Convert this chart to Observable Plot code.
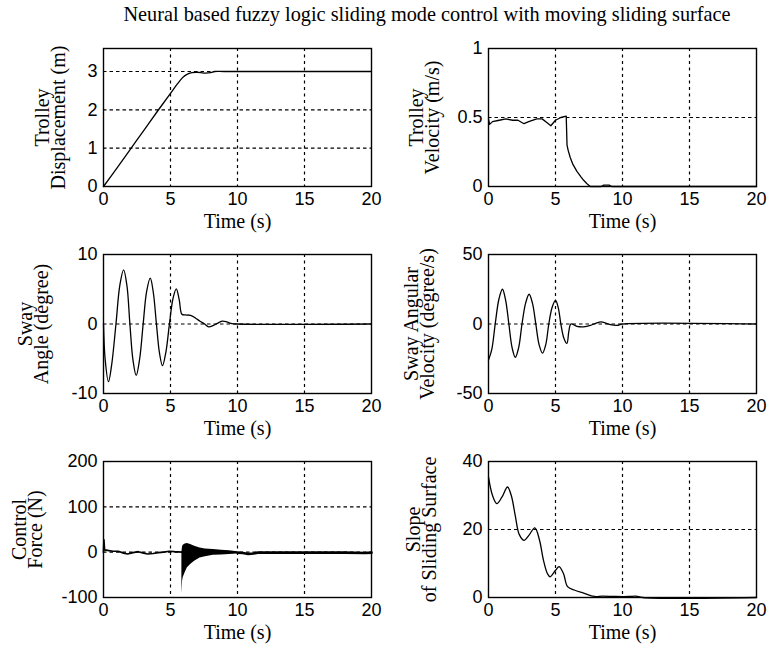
<!DOCTYPE html>
<html><head><meta charset="utf-8">
<script src="https://cdn.jsdelivr.net/npm/d3@7"></script>
<script src="https://cdn.jsdelivr.net/npm/@observablehq/plot@0.6"></script>
<style>
body{margin:0;background:#fff;}
#fig{position:relative;width:781px;height:648px;background:#fff;overflow:hidden;}
#fig svg{position:absolute;}
#title{position:absolute;top:4px;left:427px;transform:translateX(-50%);white-space:nowrap;font-family:"Liberation Serif",serif;font-size:20.3px;line-height:1;color:#000;}
</style></head><body>
<div id="fig"><div id="title">Neural based fuzzy logic sliding mode control with moving sliding surface</div></div>
<script>
// ---- data ----
const xTicks = [0, 5, 10, 15, 20];
const xGrid = [5, 10, 15];

const dispT = [0, 1, 2, 3, 4, 5, 5.5, 5.9, 6.2, 6.6, 7.0, 7.5, 8.0, 8.3, 9, 20];
const dispV = [0, 0.48, 0.97, 1.46, 1.95, 2.43, 2.67, 2.84, 2.92, 2.97, 2.98, 2.96, 2.97, 3.0, 3.0, 3.0];

const velT = [0, 0.08, 0.3, 0.8, 1.3, 1.8, 2.2, 2.65, 3.0, 3.6, 4.0, 4.4, 4.65, 5.0, 5.4, 5.8, 5.86, 5.95, 6.1, 6.3, 6.6, 6.9, 7.1, 7.35, 7.6, 8.4, 8.6, 9.0, 9.2, 20];
const velV = [0.49, 0.45, 0.47, 0.48, 0.49, 0.48, 0.48, 0.455, 0.47, 0.49, 0.49, 0.46, 0.44, 0.48, 0.5, 0.51, 0.3, 0.26, 0.21, 0.16, 0.11, 0.07, 0.045, 0.02, 0, 0, 0.01, 0.01, 0, 0];

const angT = [0, 0.12, 0.37, 0.6, 0.93, 1.22, 1.5, 1.75, 1.97, 2.2, 2.44, 2.7, 2.96, 3.22, 3.49, 3.72, 3.95, 4.18, 4.4, 4.66, 4.92, 5.18, 5.43, 5.65, 5.85, 6.1, 6.5, 6.9, 7.2, 7.55, 7.85, 8.2, 8.5, 8.85, 9.2, 9.5, 10, 20];
const angV = [0, -5, -8.3, -6, 0, 5.6, 7.8, 5.5, 0, -5.2, -7.4, -5, 0, 4.7, 6.6, 4.5, 0, -4.2, -6, -4, 0, 3.6, 5.05, 3.5, 1.4, 1.3, 1.25, 0.8, 0.4, 0, -0.4, -0.2, 0.1, 0.4, 0.3, 0.1, 0, 0];

const avelT = [0, 0.25, 0.5, 0.78, 1.04, 1.28, 1.52, 1.76, 2.0, 2.25, 2.5, 2.77, 3.03, 3.28, 3.53, 3.78, 4.03, 4.27, 4.5, 4.75, 5.0, 5.2, 5.4, 5.62, 5.85, 6.0, 6.15, 6.6, 7.1, 7.6, 8.0, 8.4, 8.8, 9.1, 9.6, 10, 20];
const avelV = [-26, -18, 0, 18, 25, 17, 0, -17, -24, -17, 0, 15, 21.4, 15, 0, -15, -21, -15, 0, 12, 17, 12, 0, -10, -14, -5, 0, -1.7, -2, -1, 0.5, 1.5, 0.5, -0.5, -1, 0, 0];

const forceT = [0, 0.03, 0.08, 0.3, 0.7, 1.1, 1.5, 1.8, 2.2, 2.6, 3.0, 3.3, 3.7, 4.1, 4.5, 4.9, 5.3, 5.85];
const forceV = [0, 27, 5, 4, 2, 2, -2, -4, -1, 1, -2, -4, -3, -1, 0, 2, 1, 0];
const chatT = [5.85, 5.9, 5.95, 6.1, 6.25, 6.5, 6.8, 7.2, 7.6, 8.2, 8.8, 9.4, 10.0];
const chatLo = [-92, -64, -56, -45, -35, -27, -20, -13, -10, -7, -6, -5, -4];
const chatHi = [0, 12, 15, 18, 19, 17, 13, 9, 7, 6, 4, 3, 1];
const postT = [10, 10.4, 10.8, 11.2, 11.5, 12, 14, 16, 18, 19.5, 20];
const postV = [-1, -2, -4, -3, -1, -1, -1, -1, -1, -2, -1];

const slopeT = [0, 0.3, 0.62, 1.0, 1.42, 1.7, 2.0, 2.3, 2.66, 3.0, 3.46, 3.8, 4.1, 4.4, 4.6, 5.0, 5.27, 5.6, 5.9, 6.4, 7.1, 7.9, 8.5, 9.5, 10.5, 11, 11.5, 20];
const slopeV = [35.4, 30, 27.6, 29.5, 32.5, 30, 24, 18.5, 16.8, 18.2, 20.5, 17, 11, 7, 6.1, 8, 9.1, 7, 3.2, 2.2, 1.3, 0.3, 0.4, 0.3, 0.3, 0.4, 0, 0];

// ---- layout ----
const rows = [
  {top: 0, mt: 48, h: 138, mb: 54},
  {top: 240, mt: 14, h: 139, mb: 53},
  {top: 446, mt: 15, h: 136, mb: 51}
];
const cols = [
  {left: 0, ml: 103, w: 268, mr: 19},
  {left: 390, ml: 98, w: 268, mr: 25}
];

const INK = "black";
const serif = "Liberation Serif";
const sans = "Liberation Sans";

function lineMarks(T, V, opts = {}) {
  return Plot.line(T, {x: T, y: V, stroke: INK, strokeWidth: 1.3, curve: "catmull-rom", ...opts});
}

const panels = [
  {r: 0, c: 0, y: [0, 3.6], yt: [0, 1, 2, 3], yg: [1, 2, 3], label: "Trolley\nDisplacement (m)", dx: -52,
   marks: [lineMarks(dispT, dispV)]},
  {r: 0, c: 1, y: [0, 1], yt: [0, 0.5, 1], yg: [0.5], label: "Trolley\nVelocity (m/s)", dx: -63,
   marks: [lineMarks(velT, velV, {curve: "linear"})]},
  {r: 1, c: 0, y: [-10, 10], yt: [-10, 0, 10], yg: [0], label: "Sway\nAngle (degree)", dx: -69,
   marks: [lineMarks(angT, angV)]},
  {r: 1, c: 1, y: [-50, 50], yt: [-50, 0, 50], yg: [0], label: "Sway Angular\nVelocity (degree/s)", dx: -68,
   marks: [lineMarks(avelT, avelV)]},
  {r: 2, c: 0, y: [-100, 200], yt: [-100, 0, 100, 200], yg: [0, 100], label: "Control\nForce (N)", dx: -75,
   marks: [
     lineMarks(forceT, forceV, {curve: "linear", strokeWidth: 1.7}),
     Plot.areaY(chatT, {x: chatT, y1: chatLo, y2: chatHi, fill: INK, curve: "linear"}),
     lineMarks(postT, postV, {curve: "linear", strokeWidth: 2.6})
   ]},
  {r: 2, c: 1, y: [0, 40], yt: [0, 20, 40], yg: [20], label: "Slope\nof Sliding Surface", dx: -66,
   marks: [lineMarks(slopeT, slopeV)]}
];

const fig = document.getElementById("fig");
for (const p of panels) {
  const R = rows[p.r], C = cols[p.c];
  const svg = Plot.plot({
    width: C.ml + C.w + C.mr,
    height: R.mt + R.h + R.mb,
    marginLeft: C.ml, marginRight: C.mr, marginTop: R.mt, marginBottom: R.mb,
    style: {fontFamily: sans, fontSize: "18px", color: INK, background: "transparent", overflow: "visible"},
    x: {domain: [0, 20], ticks: xTicks, tickSize: 0, tickPadding: 6, label: null, tickFormat: d => String(d)},
    y: {domain: p.y, ticks: p.yt, tickSize: 0, tickPadding: 6, label: null, tickFormat: d => String(d)},
    marks: [
      Plot.ruleX(xGrid, {stroke: INK, strokeWidth: 1.2, strokeDasharray: "3,3.5"}),
      Plot.ruleY(p.yg, {stroke: INK, strokeWidth: 1.2, strokeDasharray: "3.5,3"}),
      ...p.marks,
      Plot.frame({stroke: INK, strokeWidth: 1.4}),
      Plot.text(["Time (s)"], {text: d => d, frameAnchor: "bottom", lineAnchor: "middle", dy: 35,
        fontFamily: serif, fontSize: 20, fill: INK}),
      Plot.text([p.label], {text: d => d, frameAnchor: "left", rotate: -90, dx: p.dx,
        textAnchor: "middle", lineAnchor: "middle", lineHeight: 0.8, fontFamily: serif, fontSize: 20, fill: INK})
    ]
  });
  svg.style.left = C.left + "px";
  svg.style.top = R.top + "px";
  fig.appendChild(svg);
}
</script>
</body></html>
